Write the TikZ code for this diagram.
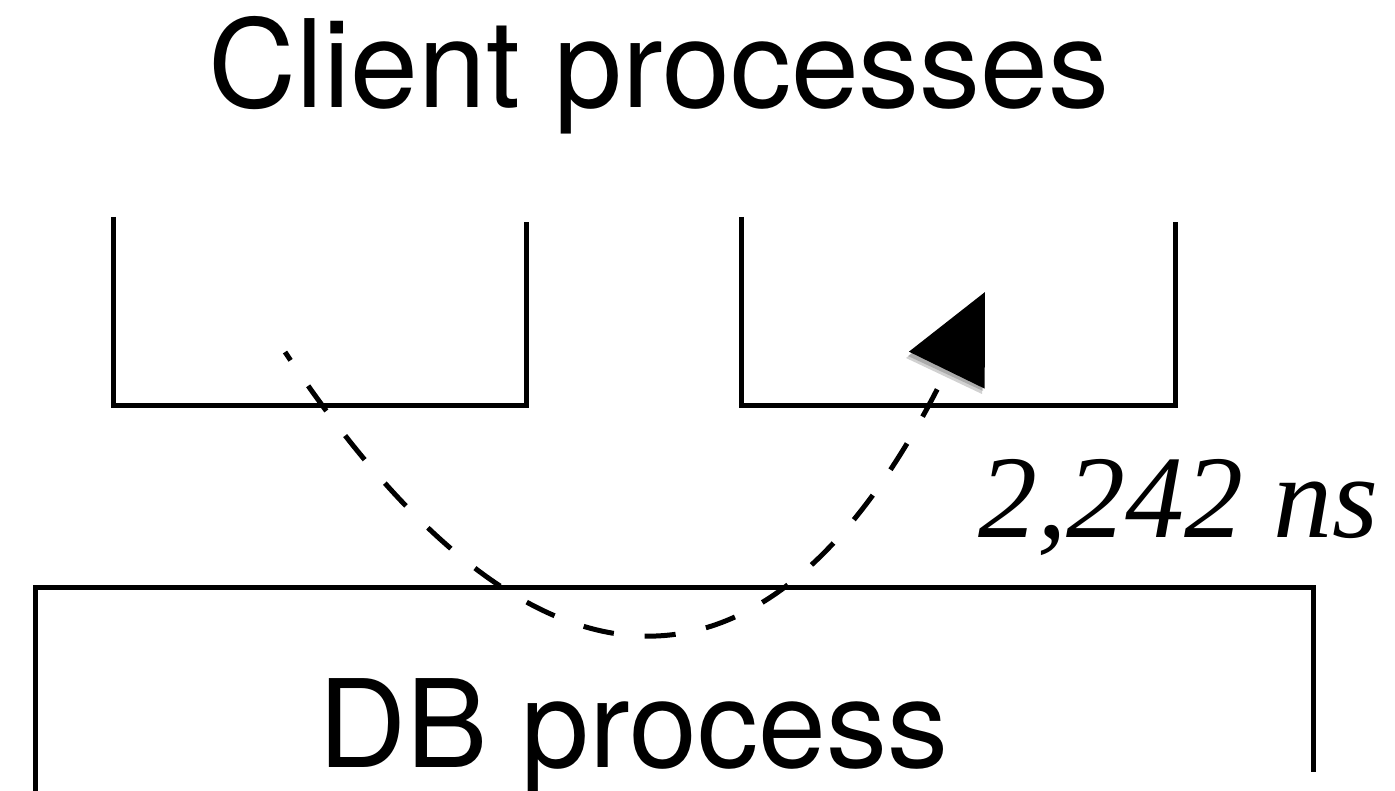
\documentclass[tikz,border=0pt]{standalone}
\usepackage{fontspec}
\setmainfont{TeX Gyre Heros}
\newfontfamily\labelfont{Liberation Serif}
\usetikzlibrary{arrows.meta}

\begin{document}
\begin{tikzpicture}[x=1pt,y=-1pt,
  wall/.style={line width=5pt, line cap=butt, line join=miter},
  area/.style={draw=none, inner sep=0pt, outer sep=0pt},
  heading/.style={font=\fontsize{122}{130}\selectfont, inner sep=0pt, anchor=base},
  timing/.style={font=\labelfont\itshape\fontsize{118}{122}\selectfont, inner sep=0pt, anchor=base west},
  hop/.style={line width=5pt, dash pattern=on 31pt off 31pt, dash phase=21pt,
    -{Triangle[length=87pt,width=83pt,fill=black]}},
  tipshade/.style={fill=black, opacity=0.18},
]
\useasboundingbox (0,0) rectangle (1395,791);

% titles
\node[heading] (title) at (659,108) {Client processes};

% the two client cups (open at the top)
\node[area, minimum width=413pt, minimum height=189pt] (cupA) at (319.5,311.5) {};
\node[area, minimum width=434pt, minimum height=189pt] (cupB) at (958,311.5) {};
\draw[wall] (cupA.north west) -- (cupA.south west) -- (cupA.south east) -- ([yshift=-5pt]cupA.north east);
\draw[wall] (cupB.north west) -- (cupB.south west) -- (cupB.south east) -- ([yshift=-5pt]cupB.north east);

% the database process box, running off the bottom edge
\node[area, minimum width=1278pt, minimum height=204pt] (db) at (674,689) {};
\draw[wall] ([yshift=-10pt]db.south west) -- (db.north west) -- (db.north east) -- ([yshift=19pt]db.south east);
\node[heading] (dblabel) at (633,767) {DB process};

% round trip from one client through the DB to the other
\coordinate (src) at (285,352);
\coordinate (dst) at (985,292);
% soft shadow under the arrow head
\fill[tipshade] (982,297) -- (906,358) -- (982,394) -- cycle;
\fill[tipshade] (983,295) -- (908,356) -- (983,391) -- cycle;
\draw[hop] (src) .. controls (535,728) and (772,728) .. (dst);

\node[timing] (lat) at (978,537) {2,242 ns};
\end{tikzpicture}
\end{document}
